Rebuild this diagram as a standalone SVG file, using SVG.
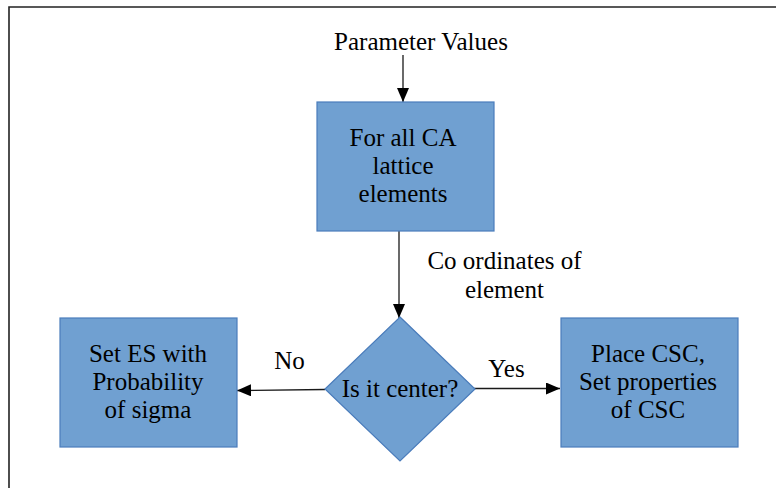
<svg xmlns="http://www.w3.org/2000/svg" width="776" height="488" viewBox="0 0 776 488">
<style>
.box{fill:#70a0d1;stroke:#4a7cbb;stroke-width:1.2}
.t{font-size:25px;fill:#000;text-anchor:middle}
.c{fill:none;stroke:#1a1a1a;stroke-width:1.3}
</style>
<defs>
<marker id="ah" markerUnits="userSpaceOnUse" markerWidth="14" markerHeight="12" refX="14" refY="6" orient="auto">
<path d="M0,0 L14,6 L0,12 Z" fill="#000"/>
</marker>
</defs>
<rect width="776" height="488" fill="#fff"/>
<path d="M9,488 V7 H776" fill="none" stroke="#222" stroke-width="1.6"/>
<g font-family="'Liberation Serif', 'DejaVu Serif', serif">
<g id="connectors">
<line class="c" x1="403" y1="55" x2="403" y2="102" marker-end="url(#ah)"/>
<line class="c" x1="399" y1="231" x2="399" y2="318" marker-end="url(#ah)"/>
<line class="c" x1="325" y1="389.5" x2="237" y2="390.5" marker-end="url(#ah)"/>
<line class="c" x1="464" y1="388.5" x2="560" y2="388.5" marker-end="url(#ah)"/>
<text class="t" x="421" y="50">Parameter Values</text>
<text class="t" x="504.5" y="269">Co ordinates of</text>
<text class="t" x="504.5" y="298">element</text>
<text class="t" x="289.5" y="369">No</text>
<text class="t" x="506.5" y="377">Yes</text>
</g>
<g id="node-lattice">
<rect class="box" x="317" y="102" width="177" height="129"/>
<text class="t" x="403" y="146">For all CA</text>
<text class="t" x="403" y="174">lattice</text>
<text class="t" x="403" y="202">elements</text>
</g>
<g id="node-center">
<polygon class="box" points="400,317 475,389 400,461 325,389"/>
<text class="t" x="400" y="397">Is it center?</text>
</g>
<g id="node-es">
<rect class="box" x="60" y="318" width="177" height="129"/>
<text class="t" x="148" y="362">Set ES with</text>
<text class="t" x="148" y="390">Probability</text>
<text class="t" x="148" y="418">of sigma</text>
</g>
<g id="node-csc">
<rect class="box" x="561" y="318" width="177" height="129"/>
<text class="t" x="648" y="362">Place CSC,</text>
<text class="t" x="648" y="390">Set properties</text>
<text class="t" x="648" y="418">of CSC</text>
</g>
</g>
</svg>
